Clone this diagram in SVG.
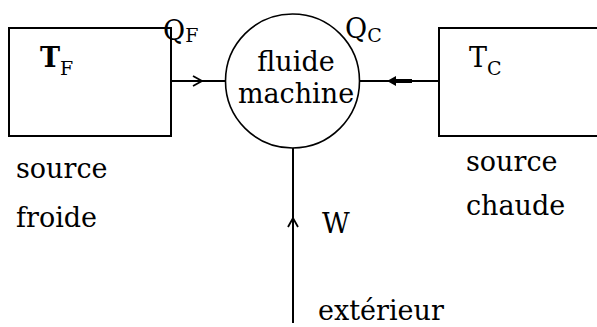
<svg xmlns="http://www.w3.org/2000/svg" width="597" height="327" viewBox="0 0 597 327">
<style>
.box{fill:none;stroke:#000;stroke-width:2}
.circ{fill:none;stroke:#000;stroke-width:1.6}
.ln{fill:none;stroke:#000;stroke-width:2}
.head{fill:none;stroke:#000;stroke-width:1.8}
text{font-family:"DejaVu Serif","Liberation Serif",serif;fill:#000}
.lbl{font-size:27px}
.tb{font-size:27px;font-weight:bold}
.tr{font-size:27px;font-weight:normal}
.sub{font-size:19px;font-weight:normal}
</style>
<rect width="597" height="327" fill="#fff"/>
<g id="source-froide">
  <rect class="box" x="9" y="28" width="162" height="108"/>
  <text class="tb" x="40" y="67">T<tspan class="sub" dy="8">F</tspan></text>
  <text class="lbl" x="16" y="178">source</text>
  <text class="lbl" x="16" y="227">froide</text>
</g>
<g id="machine">
  <circle class="circ" cx="292.5" cy="81" r="67"/>
  <text class="lbl" x="296" y="71" text-anchor="middle">fluide</text>
  <text class="lbl" x="296" y="103" text-anchor="middle">machine</text>
</g>
<g id="source-chaude">
  <rect class="box" x="439" y="28" width="170" height="108"/>
  <text class="tr" x="469" y="67">T<tspan class="sub" dy="8">C</tspan></text>
  <text class="lbl" x="466" y="171">source</text>
  <text class="lbl" x="466" y="215">chaude</text>
</g>
<g id="exterieur">
  <text class="lbl" x="318" y="320">extérieur</text>
</g>
<g id="connectors">
  <line class="ln" x1="171" y1="81" x2="225.5" y2="81"/>
  <path class="head" d="M193,76 L202,81 L193,86"/>
  <line class="ln" x1="359.5" y1="81" x2="439" y2="81"/>
  <path d="M387,81 L396,76 L396,79 L412,79 L412,83 L396,83 L396,86 Z" fill="#000"/>
  <line class="ln" x1="293" y1="148" x2="293" y2="323"/>
  <path class="head" d="M288,227 L293,218 L298,227"/>
  <text class="lbl" x="163" y="40">Q<tspan class="sub" dy="2">F</tspan></text>
  <text class="lbl" x="345" y="38">Q<tspan class="sub" dy="4">C</tspan></text>
  <text class="lbl" x="322" y="233" font-size="30">W</text>
</g>
</svg>
